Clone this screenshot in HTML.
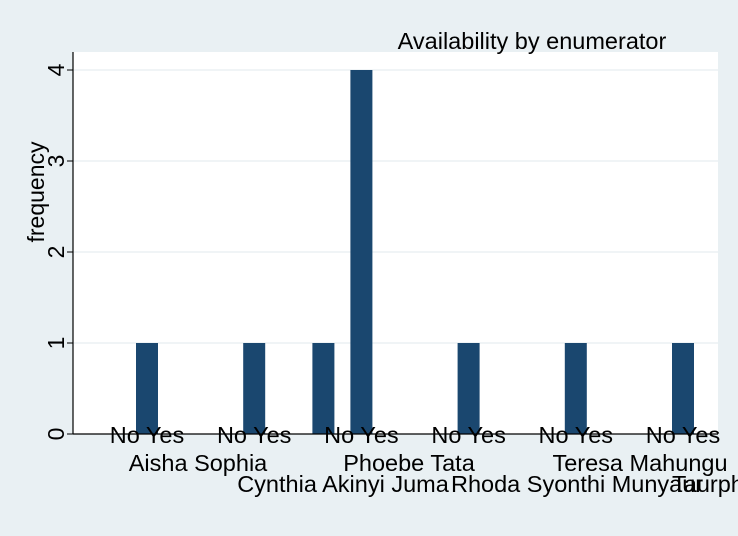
<!DOCTYPE html>
<html><head><meta charset="utf-8"><style>
html,body{margin:0;padding:0;background:#e9f0f3;}
svg{display:block;font-family:"Liberation Sans",Arial,sans-serif;}
</style></head><body>
<svg id="chart" width="738" height="536" viewBox="0 0 738 536">
<rect x="0" y="0" width="738" height="536" fill="#e9f0f3"/>
<rect x="73" y="52" width="645" height="382" fill="#ffffff"/>
<text x="532" y="49" font-size="23.5" text-anchor="middle" fill="#000">Availability by enumerator</text>
<g id="grid"></g>
<g id="bars"></g>
<g id="yaxis"></g>
<g id="xlabels"></g>
<text transform="translate(44,192) rotate(-90)" font-size="23" text-anchor="middle">frequency</text>
</svg>
<script>
const categories = ["Aisha Sophia","Cynthia Akinyi Juma","Phoebe Tata","Rhoda Syonthi Munyaur","Teresa Mahungu","Taurphe"];
const seriesNo = [0,0,1,0,0,0];
const seriesYes = [1,1,4,1,1,1];
const yTicks = [0,1,2,3,4];
const subLabels = ["No","Yes"];
const labelCenters = [198,343,409,570,640,705];
const labelRows = [0,1,0,1,0,1];

const NS="http://www.w3.org/2000/svg";
const y0=434, unit=91;
function yScale(v){return y0-v*unit;}
function xGroup(i){return 147+i*107.2;}
function mk(tag,attrs,parent){const e=document.createElementNS(NS,tag);for(const k in attrs)e.setAttribute(k,attrs[k]);parent.appendChild(e);return e;}
const grid=document.getElementById('grid'),bars=document.getElementById('bars'),yax=document.getElementById('yaxis'),xl=document.getElementById('xlabels');
yTicks.forEach(t=>{
  const y=yScale(t);
  if(t>0){const g=mk('line',{x1:73,x2:718,y1:y,y2:y,stroke:'#e6eef1','stroke-width':1.2},grid);
  
  }
  const tk=mk('line',{x1:67,x2:73,y1:y,y2:y,stroke:'#000','stroke-width':1},yax);
  
  
  const tl=mk('text',{transform:`translate(64,${y}) rotate(-90)`,'font-size':23,'text-anchor':'middle'},yax);
  tl.textContent=t;
  
  
});
const ax=mk('line',{x1:73,x2:73,y1:52,y2:434,stroke:'#000','stroke-width':1.2},yax);


categories.forEach((c,i)=>{
  const xc=xGroup(i);
  [[seriesNo[i],xc-38,'bar-no'],[seriesYes[i],xc,'bar-yes']].forEach(([v,x,n])=>{
    if(v>0){const r=mk('rect',{x:x-11,y:yScale(v),width:22,height:y0-yScale(v),fill:'#1a476f'},bars);
    
    }
  });
  const s=mk('text',{x:xc,y:443,'font-size':23.5,'text-anchor':'middle'},xl);
  s.textContent=subLabels.join(' ');
  
  
  const l=mk('text',{x:labelCenters[i],y:labelRows[i]?492:471,'font-size':23.5,'text-anchor':i===3||i===5?'start':'middle'},xl);
  if(i===3)l.setAttribute('x',451);
  if(i===5)l.setAttribute('x',672);
  l.textContent=c;
  
  
});
const xa=mk('line',{x1:73,x2:718,y1:434,y2:434,stroke:'#000','stroke-width':1.2},yax);


</script>
</body></html>
